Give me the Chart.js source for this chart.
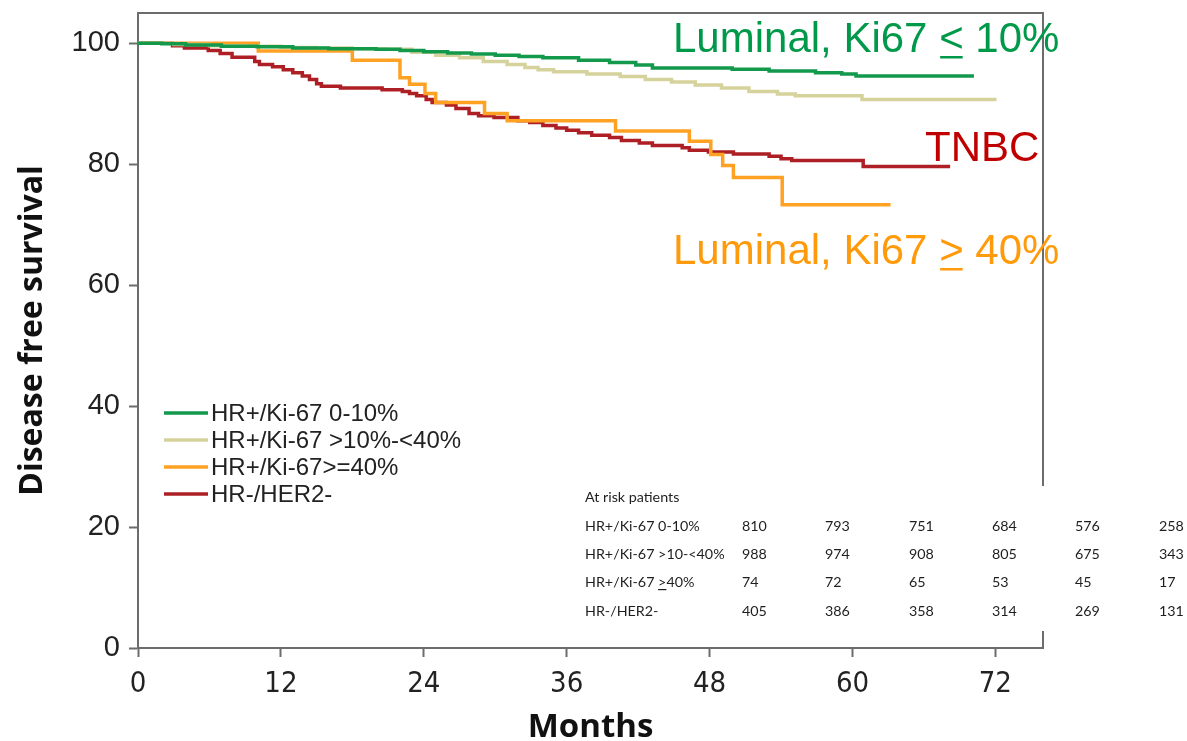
<!DOCTYPE html>
<html>
<head>
<meta charset="utf-8">
<script src="https://cdn.jsdelivr.net/npm/chart.js@4.4.1/dist/chart.umd.min.js"></script>
<style>
  html, body { margin: 0; padding: 0; background: #ffffff; overflow: hidden; }
  #wrap { width: 1187px; height: 741px; position: relative; }
</style>
</head>
<body>
<div id="wrap"><canvas id="km" width="1187" height="741"></canvas></div>
<script>
// Axis ticks
const monthTicks = [0, 12, 24, 36, 48, 60, 72];
const survivalTicks = [0, 20, 40, 60, 80, 100];

// Kaplan-Meier curves: event times (months) and disease free survival (%)
const seriesLabels = ['HR+/Ki-67 0-10%', 'HR+/Ki-67 >10%-<40%', 'HR+/Ki-67>=40%', 'HR-/HER2-'];
const seriesColors = ['#12994b', '#d6d29c', '#ffa224', '#ad1f25'];

const ki67LowMonths = [0, 2, 4, 7, 10, 13, 16, 20, 22, 24, 26, 28, 30, 32, 34, 37, 39.6, 41.8, 43.2, 49.9, 53, 56.9, 59.1, 60.3, 70.2];
const ki67LowDFS    = [100, 99.9, 99.7, 99.5, 99.4, 99.2, 99.1, 99.0, 98.8, 98.6, 98.4, 98.2, 98.0, 97.8, 97.6, 97.2, 96.8, 96.4, 95.9, 95.7, 95.4, 95.1, 94.9, 94.6, 94.6];

const ki67MidMonths = [0, 3, 6, 9, 12, 15, 18, 20.9, 23, 25, 27, 29, 31, 32.5, 33.6, 34.9, 37.7, 40.5, 42.6, 44.8, 46.8, 49, 51.3, 53.7, 55.2, 60.8, 72.1];
const ki67MidDFS    = [100, 99.8, 99.6, 99.5, 99.3, 99.2, 99.1, 99.0, 98.5, 98.0, 97.6, 97.0, 96.5, 96.0, 95.6, 95.3, 94.9, 94.5, 94.0, 93.6, 93.1, 92.6, 92.0, 91.6, 91.3, 90.7, 90.7];

const ki67HighMonths = [0, 10.1, 18.0, 22.0, 22.8, 24.1, 25.0, 29.1, 31.0, 40.1, 46.3, 48.1, 49.1, 50.0, 54.1, 63.2];
const ki67HighDFS    = [100, 98.7, 97.2, 94.3, 93.2, 91.7, 90.2, 88.4, 87.2, 85.5, 83.8, 81.6, 79.8, 77.8, 73.3, 73.3];

const tnbcMonths = [0, 2.9, 3.9, 5.9, 6.9, 7.9, 9.8, 10.2, 11.3, 12.2, 13.0, 13.8, 14.4, 15.0, 15.4, 17.0, 20.5, 22.2, 22.8, 23.4, 24.2, 24.7, 25.9, 26.7, 27.8, 28.6, 29.9, 31.9, 32.9, 34.0, 35.1, 36.0, 37.0, 38.1, 39.6, 40.6, 42.1, 43.2, 45.7, 46.3, 47.9, 50.0, 53.0, 54.0, 54.9, 60.9, 68.2];
const tnbcDFS    = [100, 99.6, 99.2, 98.8, 98.3, 97.7, 97.0, 96.5, 96.1, 95.6, 95.1, 94.6, 94.0, 93.3, 92.9, 92.6, 92.3, 92.0, 91.7, 91.3, 90.7, 90.2, 89.8, 89.2, 88.4, 88.0, 87.7, 87.2, 86.9, 86.4, 86.0, 85.6, 85.2, 84.8, 84.4, 83.9, 83.5, 83.1, 82.7, 82.3, 82.0, 81.7, 81.3, 80.9, 80.6, 79.6, 79.6];

// Patients at risk
const atRiskTitle = 'At risk patients';
const atRiskRowLabels = ['HR+/Ki-67 0-10%', 'HR+/Ki-67 >10-<40%', 'HR+/Ki-67 >40%', 'HR-/HER2-'];
const atRiskKi67Low  = [810, 793, 751, 684, 576, 258];
const atRiskKi67Mid  = [988, 974, 908, 805, 675, 343];
const atRiskKi67High = [74, 72, 65, 53, 45, 17];
const atRiskTNBC     = [405, 386, 358, 314, 269, 131];

// Curve call-outs
const calloutLow  = ['Luminal, Ki67 ', '<', ' 10%'];
const calloutTNBC = 'TNBC';
const calloutHigh = ['Luminal, Ki67 ', '>', ' 40%'];

const toPoints = (xs, ys) => xs.map((x, i) => ({ x: x, y: ys[i] }));
const curveSets = [
  toPoints(ki67LowMonths, ki67LowDFS),
  toPoints(ki67MidMonths, ki67MidDFS),
  toPoints(ki67HighMonths, ki67HighDFS),
  toPoints(tnbcMonths, tnbcDFS)
];

const AXIS = '#6c6c6c';
const SANS = "'Liberation Sans', Arial, sans-serif";
const BOLD_FAMILY = "'Open Sans', Lato, sans-serif";

// Draws text pieces left to right, underlining the middle piece (so "<" reads as "≤")
function underlinedText(ctx, parts, x, y, lineW) {
  let cx = x;
  parts.forEach((p, i) => {
    ctx.fillText(p, cx, y);
    const w = ctx.measureText(p).width;
    if (i === 1) {
      ctx.fillRect(cx + 1, y + lineW * 1.6, w - 2, lineW);
    }
    cx += w;
  });
}

const framePlugin = {
  id: 'frame',
  beforeDatasetsDraw(chart) {
    const { ctx, chartArea: a } = chart;
    ctx.save();
    ctx.strokeStyle = AXIS;
    ctx.lineWidth = 2;
    ctx.beginPath();
    ctx.moveTo(a.left, a.top);
    ctx.lineTo(a.right, a.top);
    ctx.lineTo(a.right, a.bottom);
    ctx.stroke();
    ctx.restore();
  }
};

const overlayPlugin = {
  id: 'overlay',
  afterDraw(chart) {
    const ctx = chart.ctx;
    ctx.save();

    // Legend
    ctx.font = '24px ' + SANS;
    ctx.textBaseline = 'middle';
    ctx.fillStyle = '#222';
    const legendY = [413, 440, 467, 494];
    chart.data.datasets.forEach((ds, i) => {
      ctx.strokeStyle = ds.borderColor;
      ctx.lineWidth = 3.5;
      ctx.beginPath();
      ctx.moveTo(164, legendY[i]);
      ctx.lineTo(208, legendY[i]);
      ctx.stroke();
      ctx.fillText(ds.label, 211, legendY[i] + 1);
    });

    // At-risk table on a white panel
    ctx.fillStyle = '#ffffff';
    ctx.fillRect(572, 486, 615, 145);
    ctx.fillStyle = '#1e1e1e';
    ctx.font = '14.3px Lato, ' + SANS;
    ctx.textBaseline = 'middle';
    ctx.fillText(atRiskTitle, 585, 497);
    const rows = [atRiskKi67Low, atRiskKi67Mid, atRiskKi67High, atRiskTNBC];
    const rowY = [526, 554, 582, 611];
    const colX = [742, 825, 909, 992, 1075, 1159];
    rows.forEach((vals, r) => {
      const label = atRiskRowLabels[r];
      if (r === 2) {
        const k = label.indexOf('>');
        const head = label.slice(0, k);
        ctx.fillText(head, 585, rowY[r]);
        const hx = 585 + ctx.measureText(head).width;
        ctx.fillText('>', hx, rowY[r]);
        const gw = ctx.measureText('>').width;
        ctx.fillRect(hx, rowY[r] + 7, gw, 1.2);
        ctx.fillText(label.slice(k + 1), hx + gw, rowY[r]);
      } else {
        ctx.fillText(label, 585, rowY[r]);
      }
      vals.forEach((v, c) => ctx.fillText(String(v), colX[c], rowY[r]));
    });

    // Call-outs
    ctx.font = '42px ' + SANS;
    ctx.textBaseline = 'alphabetic';
    ctx.fillStyle = '#00994a';
    underlinedText(ctx, calloutLow, 673, 52, 2.5);
    ctx.fillStyle = '#c00000';
    ctx.fillText(calloutTNBC, 925, 161);
    ctx.fillStyle = '#ff9a0a';
    underlinedText(ctx, calloutHigh, 673, 264, 2.5);

    ctx.restore();
  }
};

new Chart(document.getElementById('km'), {
  type: 'line',
  data: {
    datasets: curveSets.map((pts, i) => ({
      label: seriesLabels[i],
      data: pts,
      borderColor: seriesColors[i],
      backgroundColor: seriesColors[i],
      borderWidth: 3.5,
      stepped: 'before',
      pointRadius: 0,
      fill: false,
      tension: 0
    }))
  },
  options: {
    responsive: false,
    animation: false,
    devicePixelRatio: 1,
    layout: { padding: { left: 0, right: 144, top: 13, bottom: 0 } },
    plugins: {
      legend: { display: false },
      tooltip: { enabled: false }
    },
    scales: {
      x: {
        type: 'linear',
        min: 0,
        max: 76,
        afterBuildTicks: (s) => { s.ticks = monthTicks.map(v => ({ value: v })); },
        afterFit: (s) => { s.height = 93; s.paddingLeft = 0; s.paddingRight = 0; },
        grid: { drawOnChartArea: false, drawTicks: true, tickLength: 9, tickWidth: 2, tickColor: AXIS },
        border: { display: true, color: AXIS, width: 2 },
        ticks: {
          color: '#222',
          padding: 10,
          maxRotation: 0,
          autoSkip: false,
          font: { family: "'Liberation Sans Narrow', 'DejaVu Sans Condensed', Roboto, sans-serif", size: 29 }
        },
        title: {
          display: true,
          text: 'Months',
          color: '#111',
          font: { family: BOLD_FAMILY, weight: 'bold', size: 33, lineHeight: '26px' },
          padding: { top: 0, bottom: 0 }
        }
      },
      y: {
        type: 'linear',
        min: 0,
        max: 105,
        afterBuildTicks: (s) => { s.ticks = survivalTicks.map(v => ({ value: v })); },
        afterFit: (s) => { s.width = 138; s.paddingTop = 0; s.paddingBottom = 0; },
        grid: { drawOnChartArea: false, drawTicks: true, tickLength: 9, tickWidth: 2, tickColor: AXIS },
        border: { display: true, color: AXIS, width: 2 },
        ticks: {
          color: '#222',
          padding: 9,
          autoSkip: false,
          font: { family: SANS, size: 29 }
        },
        title: {
          display: true,
          text: 'Disease free survival',
          color: '#111',
          font: { family: BOLD_FAMILY, weight: 'bold', size: 32, lineHeight: 1 },
          padding: { top: 17, bottom: 0 }
        }
      }
    }
  },
  plugins: [framePlugin, overlayPlugin]
});
</script>
</body>
</html>
